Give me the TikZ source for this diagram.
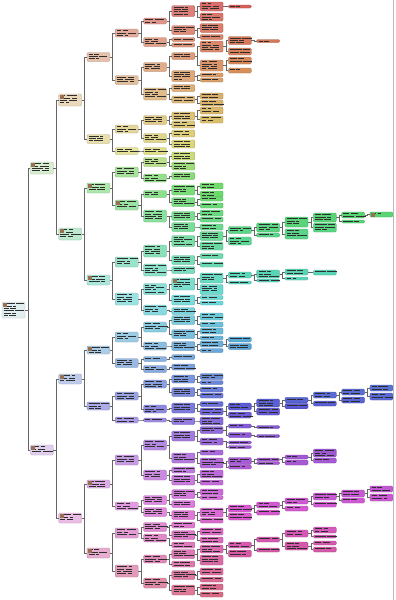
\documentclass[tikz,border=0pt]{standalone}
\usetikzlibrary{calc}
\definecolor{photoc}{RGB}{150,112,80}
\definecolor{tc}{rgb}{1,1,1}
\tikzset{
  bx/.style={rectangle, rounded corners=1.2pt, minimum width=23pt, inner sep=0pt, outer sep=0pt, anchor=west, draw=tc!78!black, line width=0.25pt},
  txt/.style={line width=0.55pt, black!82},
  conn/.style={line width=0.6pt, black!60},
  border/.style={gray!55, line width=0.9pt}
}
% name, level, y, height, parent
\newcommand\tnode[5]{%
  \pgfmathsetmacro\hh{#3<60 ? #3*0.001 : (#3<150 ? 0.06+(#3-60)*0.0011 : (#3<170 ? 0.159+(#3-150)*0.007 : (#3<400 ? 0.3+(#3-170)*0.00152 : (#3<425 ? 0.65+(#3-400)*0.0028 : min(0.72+(#3-425)*0.0014,0.99)))))}%
  \pgfmathsetmacro\ss{min(0.06+0.065*#2,0.58)}%
  \pgfmathsetmacro\bb{max(0.94-0.012*#2,0.83)}%
  \definecolor{tmphsb}{hsb}{\hh,\ss,\bb}%
  \colorlet{tc}[rgb]{tmphsb}%
  \pgfmathsetmacro\xl{2+28.3*#2}%
  \node[bx, fill=tc, minimum height=#4pt] (#1) at (\xl,#3) {};
  \pgfmathtruncatemacro\nl{max(1,floor((#4-1)/2.3))}%
  \foreach \k in {1,...,\nl}{%
    \pgfmathsetmacro\ly{#3-#4/2+1.6+2.3*(\k-1)}%
    \pgfmathsetmacro\la{4+mod(\k*5+#3*3,8)}%
    \pgfmathsetmacro\lb{3+mod(\k*3+#3*7,8)}%
    \draw[txt] (\xl+1.8,\ly) -- ++(\la,0) ++(1.5,0) -- ++(\lb,0);
  }%
  \ifx\relax#5\relax\else\draw[conn] (#5.east) -- ++(2.8,0) |- (#1.west);\fi
}
\newcommand\tph[1]{\fill[photoc] ([xshift=1pt,yshift=-1pt]#1.north west) rectangle ++(4,4);}
\begin{document}
\begin{tikzpicture}[x=1pt,y=-1pt]
\fill[white] (0,0) rectangle (396,600);
\useasboundingbox (0,0) rectangle (396,600);
% L0-L3
\tnode{R}{0}{310}{16}{}
\tnode{A}{1}{168}{12}{R}
\tnode{B}{1}{450}{10}{R}
\tnode{AA}{2}{100}{12}{A}
\tnode{AB}{2}{234}{12}{A}
\tnode{BA}{2}{379}{10}{B}
\tnode{BB}{2}{518}{10}{B}
\tnode{AAA}{3}{57}{9}{AA}
\tnode{AAB}{3}{139}{9}{AA}
\tnode{ABA}{3}{188}{10}{AB}
\tnode{ABB}{3}{280}{10}{AB}
\tnode{BAA}{3}{350}{8}{BA}
\tnode{BAB}{3}{406}{8}{BA}
\tnode{BBA}{3}{484}{8}{BB}
\tnode{BBB}{3}{553}{10}{BB}
% L4
\tnode{a1}{4}{33}{8}{AAA}
\tnode{a2}{4}{80}{9}{AAA}
\tnode{a3}{4}{129}{8}{AAB}
\tnode{a4}{4}{151}{7}{AAB}
\tnode{a5}{4}{172}{10}{ABA}
\tnode{a6}{4}{205}{10}{ABA}
\tnode{a7}{4}{262}{10}{ABB}
\tnode{a8}{4}{299}{12}{ABB}
\tnode{b1}{4}{337}{10}{BAA}
\tnode{b2}{4}{363}{9}{BAA}
\tnode{b3}{4}{396}{8}{BAB}
\tnode{b4}{4}{420}{6}{BAB}
\tnode{b5}{4}{460}{10}{BBA}
\tnode{b6}{4}{506}{8}{BBA}
\tnode{b7}{4}{533}{10}{BBB}
\tnode{b8}{4}{571}{12}{BBB}
% L5
\tnode{c1}{5}{21}{6}{a1}
\tnode{c2}{5}{42}{9}{a1}
\tnode{c3}{5}{67}{9}{a2}
\tnode{c4}{5}{94}{12}{a2}
\tnode{c5}{5}{120}{9}{a3}
\tnode{c6}{5}{138}{9}{a3}
\tnode{c7}{5}{151}{7}{a4}
\tnode{c8}{5}{162}{9}{a5}
\tnode{c9}{5}{178}{8}{a5}
\tnode{c10}{5}{194}{7}{a6}
\tnode{c11}{5}{216}{12}{a6}
\tnode{c12}{5}{251}{12}{a7}
\tnode{c13}{5}{270}{12}{a7}
\tnode{c14}{5}{289}{11}{a8}
\tnode{c15}{5}{310}{10}{a8}
\tnode{d1}{5}{327}{10}{b1}
\tnode{d2}{5}{346}{8}{b1}
\tnode{d3}{5}{359}{5}{b2}
\tnode{d4}{5}{369}{7}{b2}
\tnode{d5}{5}{384}{8}{b3}
\tnode{d6}{5}{409}{8}{b3}
\tnode{d7}{5}{420}{4}{b4}
\tnode{d8}{5}{445}{10}{b5}
\tnode{d9}{5}{475}{10}{b5}
\tnode{d10}{5}{500}{9}{b6}
\tnode{d11}{5}{512}{9}{b6}
\tnode{d12}{5}{527}{9}{b7}
\tnode{d13}{5}{538}{8}{b7}
\tnode{d14}{5}{559}{8}{b8}
\tnode{d15}{5}{583}{10}{b8}
% L6
\tnode{e1}{6}{11}{11}{c1}
\tnode{e2}{6}{30}{9}{c1}
\tnode{e3}{6}{39.5}{4}{c2}
\tnode{e4}{6}{45}{4}{c2}
\tnode{e5}{6}{56}{7}{c3}
\tnode{e6}{6}{76}{11}{c3}
\tnode{e7}{6}{88}{7}{c4}
\tnode{e8}{6}{99.5}{7}{c4}
\tnode{e9}{6}{116}{8}{c5}
\tnode{e10}{6}{124.5}{7}{c5}
\tnode{e11}{6}{133.5}{7}{c6}
\tnode{e12}{6}{144}{8}{c6}
\tnode{e13}{6}{156}{8}{c8}
\tnode{e14}{6}{166}{8}{c8}
\tnode{e15}{6}{176}{7}{c9}
\tnode{e16}{6}{190}{10}{c10}
\tnode{e17}{6}{202}{9}{c10}
\tnode{e18}{6}{216}{9}{c11}
\tnode{e19}{6}{227}{9}{c11}
\tnode{e20}{6}{241}{11}{c12}
\tnode{e21}{6}{260}{9}{c12}
\tnode{e22}{6}{270}{7}{c13}
\tnode{e23}{6}{284}{12}{c14}
\tnode{e24}{6}{300}{10}{c14}
\tnode{e25}{6}{311}{7}{c15}
\tnode{e26}{6}{320}{9}{d1}
\tnode{e27}{6}{334}{9}{d1}
\tnode{e28}{6}{346}{9}{d2}
\tnode{e29}{6}{357}{5}{d3}
\tnode{e30}{6}{367}{6}{d4}
\tnode{e31}{6}{379}{8}{d5}
\tnode{e32}{6}{392}{9}{d5}
\tnode{e33}{6}{408}{10}{d6}
\tnode{e34}{6}{421}{7}{d7}
\tnode{e35}{6}{436}{10}{d8}
\tnode{e36}{6}{458}{10}{d8}
\tnode{e37}{6}{470}{6}{d9}
\tnode{e38}{6}{480}{10}{d9}
\tnode{e39}{6}{494}{9}{d10}
\tnode{e40}{6}{504}{7}{d10}
\tnode{e41}{6}{515}{9}{d11}
\tnode{e42}{6}{525}{6}{d12}
\tnode{e43}{6}{535}{9}{d12}
\tnode{e44}{6}{545}{6}{d13}
\tnode{e45}{6}{554}{9}{d14}
\tnode{e46}{6}{564}{6}{d14}
\tnode{e47}{6}{575}{9}{d15}
\tnode{e48}{6}{590}{10}{d15}
% L7
\tnode{f1}{7}{6.5}{9}{e1}
\tnode{f2}{7}{17}{8}{e1}
\tnode{f3}{7}{28}{9}{e2}
\tnode{f4}{7}{37}{5}{e2}
\tnode{f5}{7}{46.5}{11}{e5}
\tnode{f6}{7}{65.5}{11}{e5}
\tnode{f7}{7}{75}{4}{e6}
\tnode{f8}{7}{80}{4}{e6}
\tnode{f9}{7}{96}{6}{e8}
\tnode{f10}{7}{103}{6}{e8}
\tnode{f11}{7}{110.5}{7}{e9}
\tnode{f12}{7}{119.5}{7}{e9}
\tnode{f13}{7}{186}{6}{e16}
\tnode{f14}{7}{194}{6}{e16}
\tnode{f15}{7}{199}{4}{e17}
\tnode{f16}{7}{205.5}{5}{e17}
\tnode{f17}{7}{213}{6}{e18}
\tnode{f18}{7}{219.5}{5}{e18}
\tnode{f19}{7}{227}{6}{e19}
\tnode{f20}{7}{236}{9}{e20}
\tnode{f21}{7}{246}{8}{e20}
\tnode{f22}{7}{256}{5}{e21}
\tnode{f23}{7}{264.5}{5}{e21}
\tnode{f24}{7}{278}{10}{e23}
\tnode{f25}{7}{289.5}{10}{e23}
\tnode{f26}{7}{297.5}{4}{e24}
\tnode{f27}{7}{303}{4}{e24}
\tnode{f28}{7}{316.5}{7}{e26}
\tnode{f29}{7}{324.5}{5}{e26}
\tnode{f30}{7}{331}{6}{e27}
\tnode{f31}{7}{338}{4}{e27}
\tnode{f32}{7}{344}{6}{e28}
\tnode{f33}{7}{350.5}{4}{e28}
\tnode{f34}{7}{376.5}{6}{e31}
\tnode{f35}{7}{382.5}{4}{e31}
\tnode{f36}{7}{389.5}{5}{e32}
\tnode{f37}{7}{395.5}{5}{e32}
\tnode{f38}{7}{404}{5}{e33}
\tnode{f39}{7}{411.5}{7}{e33}
\tnode{f40}{7}{421}{8}{e34}
\tnode{f41}{7}{430}{7}{e35}
\tnode{f42}{7}{441.5}{7}{e35}
\tnode{f43}{7}{452.5}{5}{e36}
\tnode{f44}{7}{463}{10}{e36}
\tnode{f45}{7}{474}{8}{e38}
\tnode{f46}{7}{482.5}{5}{e38}
\tnode{f47}{7}{492}{6}{e39}
\tnode{f48}{7}{497.5}{4}{e39}
\tnode{f49}{7}{512.5}{9}{e41}
\tnode{f50}{7}{520.5}{5}{e41}
\tnode{f51}{7}{531.5}{7}{e43}
\tnode{f52}{7}{540}{6}{e43}
\tnode{f53}{7}{549}{8}{e45}
\tnode{f54}{7}{560}{10}{e45}
\tnode{f55}{7}{571.5}{7}{e47}
\tnode{f56}{7}{579.5}{5}{e47}
\tnode{f57}{7}{587}{6}{e48}
\tnode{f58}{7}{594.5}{5}{e48}
% L8
\tnode{g1}{8}{6.5}{3}{f1}
\tnode{g2}{8}{40.5}{8}{f5}
\tnode{g3}{8}{51.5}{7}{f5}
\tnode{g4}{8}{60.5}{7}{f6}
\tnode{g5}{8}{70.5}{5}{f6}
\tnode{g6}{8}{230}{7}{f20}
\tnode{g7}{8}{241}{8}{f20}
\tnode{g8}{8}{275}{6}{f24}
\tnode{g9}{8}{282.5}{3}{f24}
\tnode{g10}{8}{339.5}{5}{f32}
\tnode{g11}{8}{346.5}{6}{f32}
\tnode{g12}{8}{406.5}{7}{f39}
\tnode{g13}{8}{415}{6}{f39}
\tnode{g14}{8}{426}{4}{f41}
\tnode{g15}{8}{435}{5}{f41}
\tnode{g16}{8}{442.5}{3}{f42}
\tnode{g17}{8}{447}{3}{f42}
\tnode{g18}{8}{461}{7}{f44}
\tnode{g19}{8}{467}{4}{f44}
\tnode{g20}{8}{508.5}{7}{f49}
\tnode{g21}{8}{516.5}{7}{f49}
\tnode{g22}{8}{545}{6}{f53}
\tnode{g23}{8}{553.5}{7}{f53}
% L9
\tnode{h1}{9}{41}{3}{g2}
\tnode{h2}{9}{227.5}{9}{g6}
\tnode{h3}{9}{235}{4}{g6}
\tnode{h4}{9}{274}{8}{g8}
\tnode{h5}{9}{280.5}{3}{g8}
\tnode{h6}{9}{403}{8}{g12}
\tnode{h7}{9}{411.5}{7}{g12}
\tnode{h8}{9}{427}{3}{g14}
\tnode{h9}{9}{436}{3}{g15}
\tnode{h10}{9}{459.5}{3}{g18}
\tnode{h11}{9}{463}{3}{g18}
\tnode{h12}{9}{505}{6}{g20}
\tnode{h13}{9}{512.5}{5}{g20}
\tnode{h14}{9}{539.5}{5}{g22}
\tnode{h15}{9}{550}{4}{g22}
% L10
\tnode{k1}{10}{222}{10}{h2}
\tnode{k2}{10}{234}{10}{h2}
\tnode{k3}{10}{272}{6}{h4}
\tnode{k4}{10}{278.5}{3}{h4}
\tnode{k5}{10}{400}{5.5}{h6}
\tnode{k6}{10}{406}{5.5}{h6}
\tnode{k7}{10}{457}{4}{h10}
\tnode{k8}{10}{462.5}{5}{h10}
\tnode{k9}{10}{501}{6}{h12}
\tnode{k10}{10}{508.5}{5}{h12}
\tnode{k11}{10}{533.5}{7}{h14}
\tnode{k12}{10}{546}{8}{h14}
% L11
\tnode{m1}{11}{217.5}{9}{k1}
\tnode{m2}{11}{227.5}{9}{k1}
\tnode{m3}{11}{272.5}{5}{k3}
\tnode{m4}{11}{395}{6}{k5}
\tnode{m5}{11}{403.5}{5}{k5}
\tnode{m6}{11}{453}{8}{k7}
\tnode{m7}{11}{460.5}{5}{k7}
\tnode{m8}{11}{496.5}{7}{k9}
\tnode{m9}{11}{504.5}{5}{k9}
\tnode{m10}{11}{530}{6}{k11}
\tnode{m11}{11}{536.5}{3}{k11}
\tnode{m12}{11}{543}{4}{k12}
\tnode{m13}{11}{549.5}{5}{k12}
% L12
\tnode{p1}{12}{215}{6}{m1}
\tnode{p2}{12}{221.5}{3}{m1}
\tnode{p3}{12}{392}{6}{m4}
\tnode{p4}{12}{400}{6}{m4}
\tnode{p5}{12}{493.5}{7}{m8}
\tnode{p6}{12}{500.5}{5}{m8}
% L13
\tnode{q1}{13}{214.5}{5}{p1}
\tnode{q2}{13}{388}{6}{p3}
\tnode{q3}{13}{396.5}{7}{p3}
\tnode{q4}{13}{489}{6}{p5}
\tnode{q5}{13}{497.5}{7}{p5}
% thumbnails
\tph{R}\tph{A}\tph{B}\tph{AA}\tph{AB}\tph{BA}\tph{BB}
\tph{ABA}\tph{ABB}\tph{BAA}\tph{BBA}\tph{BBB}\tph{a6}\tph{e23}\tph{q1}
% right frame edge
\draw[border] (393.6,0) -- (393.6,600);
\end{tikzpicture}
\end{document}
